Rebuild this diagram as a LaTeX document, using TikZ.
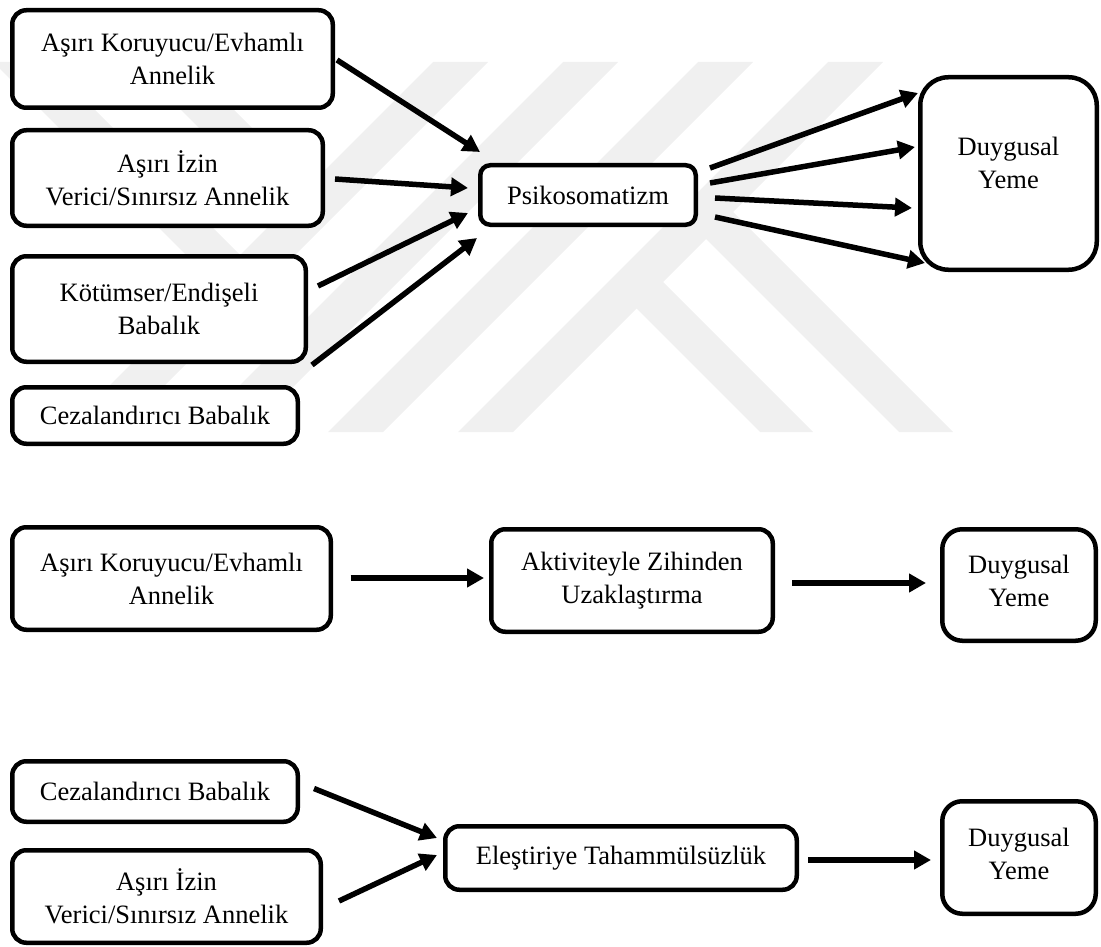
\documentclass[tikz,border=0pt]{standalone}
\usepackage{fontspec}
\setmainfont{Liberation Serif}
\usetikzlibrary{arrows.meta,calc}
\definecolor{wmgrey}{HTML}{F0F0F0}
\tikzset{
  box/.style={draw=black, line width=4.5pt, fill=white, rounded corners=14pt,
    align=center, inner sep=0pt, outer sep=0pt,
    font=\fontsize{26.5}{33}\selectfont},
  txt/.style={align=center, inner sep=0pt, outer sep=0pt,
    font=\fontsize{26.5}{33}\selectfont},
  arr/.style={line width=5.5pt, -{Triangle[length=17pt,width=18pt]}},
  wm/.style={fill=wmgrey, draw=none},
}
\begin{document}
\begin{tikzpicture}[x=1pt,y=-1pt]
\useasboundingbox (0,0) rectangle (1101,947);

% faint background logo: diagonal bands
\begin{scope}
  \clip (0,0) rectangle (1101,947);
  \fill[wm] (433,62) -- (488,62) -- (118,432) -- (63,432) -- cycle;
  \fill[wm] (563,62) -- (618,62) -- (248,432) -- (193,432) -- cycle;
  \fill[wm] (698,62) -- (753,62) -- (383,432) -- (328,432) -- cycle;
  \fill[wm] (828,62) -- (883,62) -- (513,432) -- (458,432) -- cycle;
  \fill[wm] (631.5,303.5) -- (658,277) -- (813,432) -- (760,432) -- cycle;
  \fill[wm] (701,234) -- (728,207) -- (953,432) -- (899,432) -- cycle;
  \fill[wm] (133,62) -- (186,62) -- (314.5,190.5) -- (288,217) -- cycle;
  \fill[wm] (-7,62) -- (47,62) -- (245,260) -- (218,287) -- cycle;
\end{scope}

% first model
\node[box, minimum width=320.5pt, minimum height=97.5pt] (a1) at (172.5,59) {Aşırı Koruyucu/Evhamlı\\Annelik};
\node[box, minimum width=310.5pt, minimum height=95.5pt] (a2) at (167.5,178) {Aşırı İzin\\Verici/Sınırsız Annelik};
\node[box, minimum width=293.5pt, minimum height=105.5pt] (a3) at (159,309) {Kötümser/Endişeli\\Babalık};
\node[box, minimum width=285.5pt, minimum height=56.5pt] (a4) at (155,415.5) {Cezalandırıcı Babalık};
\node[box, rounded corners=10pt, minimum width=215.5pt, minimum height=59.5pt] (psi) at (588,195) {Psikosomatizm};
\node[box, rounded corners=28pt, minimum width=176.5pt, minimum height=192.5pt] (d1) at (1008.5,173.5) {};
\node[txt] (d1t) at ($(d1.center)+(0,-11)$) {Duygusal\\Yeme};

\draw[arr] ($(a1.east)+(4.25,1)$) -- ($(psi.west)+(-0.25,-43)$);
\draw[arr] ($(a2.east)+(12.25,1)$) -- ($(psi.west)+(-12.25,-7)$);
\draw[arr] ($(a3.east)+(12.25,-23)$) -- ($(psi.west)+(-12.25,18)$);
\draw[arr] ($(a4.east)+(14.25,-50.5)$) -- ($(psi.west)+(-3.25,43)$);
\draw[arr] ($(psi.east)+(14.25,-27)$) -- ($(d1.west)+(-2.25,-80.5)$);
\draw[arr] ($(psi.east)+(14.25,-12)$) -- ($(d1.west)+(-5.25,-26.5)$);
\draw[arr] ($(psi.east)+(19.25,3)$) -- ($(d1.west)+(-8.25,34.5)$);
\draw[arr] ($(psi.east)+(19.25,22)$) -- ($(d1.west)+(4.75,89.5)$);

% second model
\node[box, minimum width=318.5pt, minimum height=102.5pt] (b1) at (171.5,578.5) {Aşırı Koruyucu/Evhamlı\\Annelik};
\node[box, minimum width=281.5pt, minimum height=102.5pt] (b2) at (632,580.5) {Aktiviteyle Zihinden\\Uzaklaştırma};
\node[box, rounded corners=20pt, minimum width=153.5pt, minimum height=111.5pt] (d2) at (1019,585) {};
\node[txt] (d2t) at ($(d2.center)+(0,-4)$) {Duygusal\\Yeme};

\draw[arr] ($(b1.east)+(19.75,-0.5)$) -- ($(b2.west)+(-7.25,-2.5)$);
\draw[arr] ($(b2.east)+(19.25,2.5)$) -- ($(d2.west)+(-16.25,-2)$);

% third model
\node[box, minimum width=285.5pt, minimum height=60.5pt] (c1) at (155,791.5) {Cezalandırıcı Babalık};
\node[box, minimum width=308.5pt, minimum height=92.5pt] (c2) at (166.5,896.5) {Aşırı İzin\\Verici/Sınırsız Annelik};
\node[box, minimum width=351.5pt, minimum height=63.5pt] (e) at (621,858) {Eleştiriye Tahammülsüzlük};
\node[box, rounded corners=20pt, minimum width=153.5pt, minimum height=112.5pt] (d3) at (1019,857.5) {};
\node[txt] (d3t) at ($(d3.center)+(0,-4)$) {Duygusal\\Yeme};

\draw[arr] ($(c1.east)+(16.25,-3)$) -- ($(e.west)+(-8.25,-20)$);
\draw[arr] ($(c2.east)+(18.25,4.5)$) -- ($(e.west)+(-8.25,-3)$);
\draw[arr] ($(e.east)+(11.25,2)$) -- ($(d3.west)+(-11.25,2.5)$);
\end{tikzpicture}
\end{document}
